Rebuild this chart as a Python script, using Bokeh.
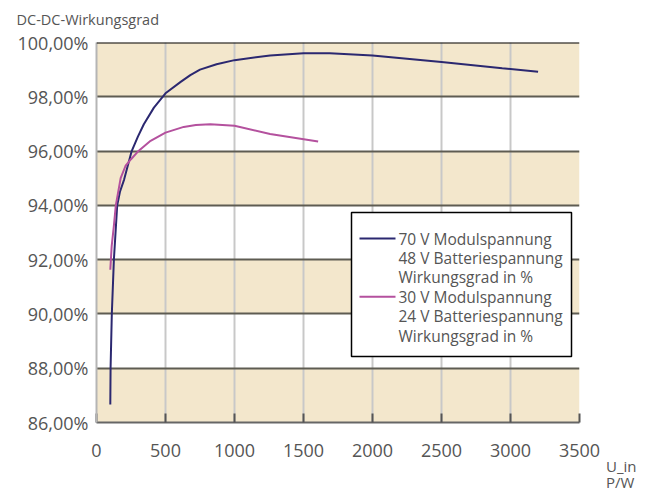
from bokeh.plotting import figure
from bokeh.models import (FixedTicker, Label, BoxAnnotation, Title, Span, Range1d)
from bokeh.embed import file_html
from bokeh.resources import INLINE

# ---- data ----
x_ticks = [0, 500, 1000, 1500, 2000, 2500, 3000, 3500]
y_ticks = [86, 88, 90, 92, 94, 96, 98, 100]
y_tick_labels = ["86,00%", "88,00%", "90,00%", "92,00%", "94,00%", "96,00%", "98,00%", "100,00%"]

s1_x = [100, 102, 111, 126, 150, 170, 200, 255, 300, 343, 416, 500, 610, 680, 750, 870, 1000, 1258, 1500, 1690, 2000, 2500, 2940, 3200]
s1_y = [86.66, 88.0, 90.0, 92.0, 94.0, 94.5, 94.95, 96.0, 96.53, 96.99, 97.6, 98.13, 98.55, 98.8, 99.0, 99.2, 99.35, 99.52, 99.6, 99.6, 99.52, 99.28, 99.05, 98.92]

s2_x = [100, 110, 125, 140, 175, 210, 250, 300, 392, 500, 632, 720, 825, 1000, 1258, 1606]
s2_y = [91.63, 92.5, 93.2, 94.0, 95.0, 95.45, 95.7, 95.98, 96.38, 96.68, 96.89, 96.96, 96.99, 96.93, 96.63, 96.35]

s1_labels = ["70 V Modulspannung", "48 V Batteriespannung", "Wirkungsgrad in %"]
s2_labels = ["30 V Modulspannung", "24 V Batteriespannung", "Wirkungsgrad in %"]

y_title = "DC-DC-Wirkungsgrad"
x_title = ["U_in", "P/W"]

FONT = "Open Sans"
TXT = "#555555"
BEIGE = "#f3e7cc"
NAVY = "#2b2870"
PINK = "#b4519e"

p = figure(width=657, height=489, output_backend="svg", toolbar_location=None,
           x_range=Range1d(x_ticks[0], x_ticks[-1]), y_range=Range1d(y_ticks[0], y_ticks[-1]),
           min_border_left=96, min_border_right=78, min_border_top=42, min_border_bottom=66)
p.background_fill_color = "white"
p.border_fill_color = "white"
p.outline_line_color = None

# y title (outermost) + spacer title next to the frame
p.title.text = y_title
p.title.align = "left"
p.title.offset = -80
p.title.text_font = FONT
p.title.text_font_size = "14.5px"
p.title.text_font_style = "normal"
p.title.text_color = TXT
p.title.standoff = 0
spacer = Title(text=" ", text_font_size="1px", standoff=10.5)
p.add_layout(spacer, "above")

# x title below, right of the frame
xt = Title(text="\n".join(x_title), align="right", offset=-57, text_font=FONT,
           text_font_size="15px", text_font_style="normal", text_color=TXT,
           vertical_align="top", standoff=-8, text_line_height=0.8)
p.add_layout(xt, "below")

# bands
band_bottom = [y_ticks[i] for i in range(0, len(y_ticks) - 1, 2)]
band_top = [y_ticks[i + 1] for i in range(0, len(y_ticks) - 1, 2)]
bands = p.quad(left=x_ticks[0], right=x_ticks[-1], bottom=band_bottom, top=band_top,
               fill_color=BEIGE, line_color=None)
bands.level = "image"

# grids
p.xgrid.ticker = FixedTicker(ticks=x_ticks)
p.ygrid.ticker = FixedTicker(ticks=y_ticks)
p.xgrid.grid_line_color = "#c8c8c8"
p.xgrid.grid_line_width = 2
p.ygrid.grid_line_color = "#5e5c52"
p.ygrid.grid_line_width = 2

p.add_layout(Span(location=y_ticks[-1], dimension="width", line_color="black", line_width=2))

# axes
p.xaxis.ticker = FixedTicker(ticks=x_ticks)
p.yaxis.ticker = FixedTicker(ticks=y_ticks)
p.yaxis.major_label_overrides = {t: l for t, l in zip(y_ticks, y_tick_labels)}
for ax in (p.xaxis, p.yaxis):
    ax.major_label_text_font = FONT
    ax.major_label_text_font_size = "18px"
    ax.major_label_text_color = TXT
    ax.minor_tick_line_color = None
p.xaxis.axis_line_color = "#666666"
p.xaxis.axis_line_width = 2
p.xaxis.major_tick_in = 9
p.xaxis.major_tick_out = 0
p.xaxis.major_tick_line_color = "#555555"
p.xaxis.major_tick_line_width = 2
p.xaxis.major_label_standoff = 21
p.yaxis.axis_line_color = "#b5b5b5"
p.yaxis.axis_line_width = 2
p.yaxis.major_tick_line_color = None
p.yaxis.major_tick_in = 0
p.yaxis.major_tick_out = 0
p.yaxis.major_label_standoff = 8

# lines
r1 = p.line(s1_x, s1_y, line_color=NAVY, line_width=2)
r2 = p.line(s2_x, s2_y, line_color=PINK, line_width=2)

# legend (drawn by hand, screen units relative to the frame)
LG_L, LG_R, LG_B, LG_T = 255, 475, 66, 210
ROW0, ROW_H = 184, 19.4
GL0, GL1, TX = 263, 299, 302
p.add_layout(BoxAnnotation(left=LG_L, right=LG_R, bottom=LG_B, top=LG_T,
                           left_units="screen", right_units="screen",
                           bottom_units="screen", top_units="screen",
                           fill_color="white", fill_alpha=1,
                           line_color="black", line_width=1.5, line_alpha=1))
for gi, (labels, col) in enumerate([(s1_labels, NAVY), (s2_labels, PINK)]):
    y0 = ROW0 - gi * 3 * ROW_H
    p.add_layout(BoxAnnotation(left=GL0, right=GL1, bottom=y0 - 1, top=y0 + 1,
                               left_units="screen", right_units="screen",
                               bottom_units="screen", top_units="screen",
                               fill_color=col, fill_alpha=1, line_color=None))
    for li, lab in enumerate(labels):
        p.add_layout(Label(x=TX, y=y0 - li * ROW_H, x_units="screen", y_units="screen",
                           text=lab, text_font=FONT, text_font_size="15.5px",
                           text_color=TXT, text_baseline="middle", text_align="left"))

open("out.html", "w").write(file_html(p, INLINE))
